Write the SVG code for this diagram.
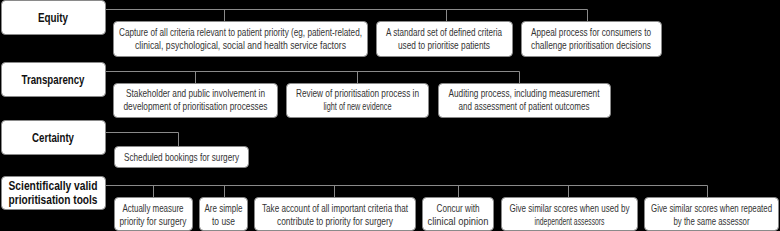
<svg xmlns="http://www.w3.org/2000/svg" width="780" height="231" viewBox="0 0 780 231">
<style>
.bg{fill:#000}
.box{fill:#fff;stroke:#8a8a8a;stroke-width:1}
.conn{stroke:#8a8a8a;stroke-width:1;fill:none}
.t{font-family:"Liberation Sans",Arial,sans-serif;font-size:11px;fill:#333;text-anchor:middle}
.h{font-family:"Liberation Sans",Arial,sans-serif;font-size:13px;font-weight:bold;fill:#111;text-anchor:middle}
</style>
<rect class="bg" x="0" y="0" width="780" height="231"/>
<g id="connectors">
<path class="conn" d="M106 9.5H587.5M224.5 9.5V21M446.5 9.5V21M587.5 9.5V21"/>
<path class="conn" d="M106 71.5H519.5M195.5 71.5V83M357.5 71.5V83M519.5 71.5V83"/>
<path class="conn" d="M106 132.5H178.5V146"/>
<path class="conn" d="M106 185.5H707.5M153.5 185.5V197M224.5 185.5V197M334.5 185.5V197M458.5 185.5V197M568.5 185.5V197M707.5 185.5V197"/>
</g>
<g id="equity">
<rect class="box" x="1.5" y="0.5" width="104" height="34" rx="4"/>
<text class="h" transform="matrix(0.72,0,0,1,53,22)" textLength="41.7" lengthAdjust="spacingAndGlyphs">Equity</text>
</g>
<g id="capture">
<rect class="box" x="113.5" y="21.5" width="254" height="35" rx="4"/>
<text class="t" transform="matrix(0.62,0,0,1,240.5,36)" textLength="391.9" lengthAdjust="spacingAndGlyphs">Capture of all criteria relevant to patient priority (eg, patient-related,</text>
<text class="t" transform="matrix(0.62,0,0,1,240.5,49)" textLength="340.3" lengthAdjust="spacingAndGlyphs">clinical, psychological, social and health service factors</text>
</g>
<g id="standard">
<rect class="box" x="376.5" y="21.5" width="136" height="35" rx="4"/>
<text class="t" transform="matrix(0.62,0,0,1,444,36)" textLength="187.1" lengthAdjust="spacingAndGlyphs">A standard set of defined criteria</text>
<text class="t" transform="matrix(0.62,0,0,1,444,49)" textLength="148.4" lengthAdjust="spacingAndGlyphs">used to prioritise patients</text>
</g>
<g id="appeal">
<rect class="box" x="521.5" y="21.5" width="140" height="35" rx="4"/>
<text class="t" transform="matrix(0.62,0,0,1,591,36)" textLength="193.5" lengthAdjust="spacingAndGlyphs">Appeal process for consumers to</text>
<text class="t" transform="matrix(0.62,0,0,1,591,49)" textLength="193.5" lengthAdjust="spacingAndGlyphs">challenge prioritisation decisions</text>
</g>
<g id="transparency">
<rect class="box" x="1.5" y="62.5" width="104" height="34" rx="4"/>
<text class="h" transform="matrix(0.72,0,0,1,53,84)" textLength="87.5" lengthAdjust="spacingAndGlyphs">Transparency</text>
</g>
<g id="stakeholder">
<rect class="box" x="113.5" y="83.5" width="164" height="34" rx="4"/>
<text class="t" transform="matrix(0.62,0,0,1,195.5,97)" textLength="224.2" lengthAdjust="spacingAndGlyphs">Stakeholder and public involvement in</text>
<text class="t" transform="matrix(0.62,0,0,1,195.5,110)" textLength="232.3" lengthAdjust="spacingAndGlyphs">development of prioritisation processes</text>
</g>
<g id="review">
<rect class="box" x="286.5" y="83.5" width="142" height="34" rx="4"/>
<text class="t" transform="matrix(0.62,0,0,1,357.5,97)" textLength="198.4" lengthAdjust="spacingAndGlyphs">Review of prioritisation process in</text>
<text class="t" transform="matrix(0.62,0,0,1,357.5,110)" textLength="109.7" lengthAdjust="spacingAndGlyphs">light of new evidence</text>
</g>
<g id="auditing">
<rect class="box" x="438.5" y="83.5" width="172" height="34" rx="4"/>
<text class="t" transform="matrix(0.62,0,0,1,524,97)" textLength="243.5" lengthAdjust="spacingAndGlyphs">Auditing process, including measurement</text>
<text class="t" transform="matrix(0.62,0,0,1,524,110)" textLength="211.3" lengthAdjust="spacingAndGlyphs">and assessment of patient outcomes</text>
</g>
<g id="certainty">
<rect class="box" x="1.5" y="120.5" width="104" height="34" rx="4"/>
<text class="h" transform="matrix(0.72,0,0,1,53,142)" textLength="58.3" lengthAdjust="spacingAndGlyphs">Certainty</text>
</g>
<g id="scheduled">
<rect class="box" x="114.5" y="146.5" width="134" height="21" rx="4"/>
<text class="t" transform="matrix(0.62,0,0,1,181.5,160.5)" textLength="185.5" lengthAdjust="spacingAndGlyphs">Scheduled bookings for surgery</text>
</g>
<g id="scientific">
<rect class="box" x="1.5" y="176.5" width="104" height="33" rx="4"/>
<text class="h" transform="matrix(0.72,0,0,1,53,190)" textLength="123.6" lengthAdjust="spacingAndGlyphs">Scientifically valid</text>
<text class="h" transform="matrix(0.72,0,0,1,53,204)" textLength="123.6" lengthAdjust="spacingAndGlyphs">prioritisation tools</text>
</g>
<g id="measure">
<rect class="box" x="114.5" y="197.5" width="78" height="33" rx="4"/>
<text class="t" transform="matrix(0.62,0,0,1,153,212)" textLength="98.4" lengthAdjust="spacingAndGlyphs">Actually measure</text>
<text class="t" transform="matrix(0.62,0,0,1,153,225)" textLength="108.1" lengthAdjust="spacingAndGlyphs">priority for surgery</text>
</g>
<g id="simple">
<rect class="box" x="199.5" y="197.5" width="48" height="33" rx="4"/>
<text class="t" transform="matrix(0.62,0,0,1,223.5,212)" textLength="61.3" lengthAdjust="spacingAndGlyphs">Are simple</text>
<text class="t" transform="matrix(0.62,0,0,1,223.5,225)" textLength="37.1" lengthAdjust="spacingAndGlyphs">to use</text>
</g>
<g id="account">
<rect class="box" x="254.5" y="197.5" width="161" height="33" rx="4"/>
<text class="t" transform="matrix(0.62,0,0,1,335,212)" textLength="235.5" lengthAdjust="spacingAndGlyphs">Take account of all important criteria that</text>
<text class="t" transform="matrix(0.62,0,0,1,335,225)" textLength="187.1" lengthAdjust="spacingAndGlyphs">contribute to priority for surgery</text>
</g>
<g id="concur">
<rect class="box" x="422.5" y="197.5" width="71" height="33" rx="4"/>
<text class="t" transform="matrix(0.62,0,0,1,458,212)" textLength="69.4" lengthAdjust="spacingAndGlyphs">Concur with</text>
<text class="t" transform="matrix(0.62,0,0,1,458,225)" textLength="98.4" lengthAdjust="spacingAndGlyphs">clinical opinion</text>
</g>
<g id="independent">
<rect class="box" x="501.5" y="197.5" width="136" height="33" rx="4"/>
<text class="t" transform="matrix(0.62,0,0,1,569.5,212)" textLength="193.5" lengthAdjust="spacingAndGlyphs">Give similar scores when used by</text>
<text class="t" transform="matrix(0.62,0,0,1,569.5,225)" textLength="112.9" lengthAdjust="spacingAndGlyphs">independent assessors</text>
</g>
<g id="same">
<rect class="box" x="644.5" y="197.5" width="134" height="33" rx="4"/>
<text class="t" transform="matrix(0.62,0,0,1,711.5,212)" textLength="195.2" lengthAdjust="spacingAndGlyphs">Give similar scores when repeated</text>
<text class="t" transform="matrix(0.62,0,0,1,711.5,225)" textLength="122.6" lengthAdjust="spacingAndGlyphs">by the same assessor</text>
</g>
</svg>
